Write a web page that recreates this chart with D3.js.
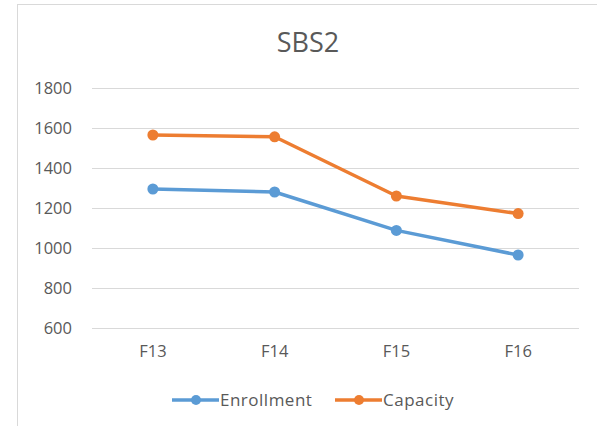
<!DOCTYPE html>
<html>
<head>
<meta charset="utf-8">
<script src="https://cdn.jsdelivr.net/npm/d3@7"></script>
<style>
  body { margin: 0; background: #fff; }
  svg text { font-family: "Open Sans", "Liberation Sans", sans-serif; fill: #595959; }
</style>
</head>
<body>
<div id="chart"></div>
<script>
// Chart data
const categories = ['F13', 'F14', 'F15', 'F16'];
const enrollment = [1295, 1280, 1088, 965];
const capacity = [1565, 1556, 1260, 1172];
const yTicks = [600, 800, 1000, 1200, 1400, 1600, 1800];

const series = [
    { name: 'Enrollment', values: enrollment, color: '#5B9BD5' },
    { name: 'Capacity', values: capacity, color: '#ED7D31' }
];

const width = 597;
const height = 426;

const svg = d3.select('#chart')
    .append('svg')
    .attr('width', width)
    .attr('height', height);

// Chart border (right/bottom edges fall outside the frame)
svg.append('rect')
    .attr('x', 17.5)
    .attr('y', 4.5)
    .attr('width', 600)
    .attr('height', 440)
    .style('fill', '#fff')
    .style('stroke', '#d9d9d9')
    .style('stroke-width', 1);

// Title
svg.append('text')
    .attr('x', 308)
    .attr('y', 52)
    .attr('text-anchor', 'middle')
    .style('font-size', '27px')
    .text('SBS2');

// Scales
const x = d3.scaleBand()
    .domain(categories)
    .range([92, 579]);

const y = d3.scaleLinear()
    .domain([600, 1800])
    .range([328, 88]);

// Gridlines + y labels
const yAxis = svg.append('g')
    .attr('transform', 'translate(92,0)')
    .call(d3.axisLeft(y)
        .tickValues(yTicks)
        .tickSize(-(579 - 92))
        .tickPadding(20)
        .tickFormat(d3.format('d')));

yAxis.select('.domain').remove();
yAxis.selectAll('line')
    .style('stroke', '#d9d9d9')
    .style('stroke-width', 1);
yAxis.selectAll('text')
    .style('font-size', '16.5px')
    .style('fill', '#595959')
    .attr('font-family', null);

// X labels
const xAxis = svg.append('g')
    .attr('transform', 'translate(0,328)')
    .call(d3.axisBottom(x).tickSize(0).tickPadding(17));

xAxis.select('.domain').remove();
xAxis.selectAll('text')
    .style('font-size', '16.5px')
    .style('fill', '#595959');

// Lines
const line = d3.line()
    .x((d, i) => x(categories[i]) + x.bandwidth() / 2)
    .y(d => y(d));

series.forEach(s => {
    svg.append('path')
        .datum(s.values)
        .attr('d', line)
        .style('fill', 'none')
        .style('stroke', s.color)
        .style('stroke-width', 3.5)
        .style('stroke-linejoin', 'round');

    svg.append('g')
        .selectAll('circle')
        .data(s.values)
        .enter()
        .append('circle')
        .attr('cx', (d, i) => x(categories[i]) + x.bandwidth() / 2)
        .attr('cy', d => y(d))
        .attr('r', 5.5)
        .style('fill', s.color);
});

// Legend
const legendX = [172, 335];
series.forEach((s, i) => {
    const g = svg.append('g')
        .attr('transform', `translate(${legendX[i]},400)`);
    g.append('line')
        .attr('x1', 0).attr('x2', 47)
        .attr('y1', 0).attr('y2', 0)
        .style('stroke', s.color)
        .style('stroke-width', 3.5);
    g.append('circle')
        .attr('cx', 24)
        .attr('cy', 0)
        .attr('r', 5)
        .style('fill', s.color);
    g.append('text')
        .attr('x', 48)
        .attr('y', 6)
        .style('font-size', '17px')
        .style('letter-spacing', '0.5px')
        .text(s.name);
});
</script>
</body>
</html>
